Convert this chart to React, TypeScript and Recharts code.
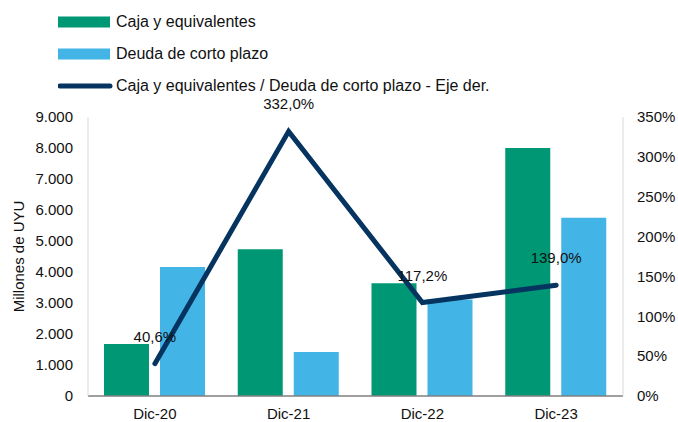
import { Bar, ComposedChart, Legend, LabelList, Line, XAxis, YAxis } from 'recharts'

const categories = ['Dic-20', 'Dic-21', 'Dic-22', 'Dic-23']
const caja = [1680, 4730, 3640, 8000]
const deuda = [4160, 1420, 3110, 5750]
const ratio = [0.406, 3.32, 1.172, 1.39]
const leftTicks = [0, 1000, 2000, 3000, 4000, 5000, 6000, 7000, 8000, 9000]
const rightTicks = [0, 0.5, 1, 1.5, 2, 2.5, 3, 3.5]
const legendOrder = ['caja', 'deuda', 'ratio']

const data = categories.map((name, i) => ({ name, caja: caja[i], deuda: deuda[i], ratio: ratio[i] }))

const FONT = '"Liberation Sans", Arial, sans-serif'
const GREEN = '#009874'
const BLUE = '#42B4E6'
const NAVY = '#04345F'

const fmtThousands = (v: number) => String(v).replace(/\B(?=(\d{3})+(?!\d))/g, '.')
const fmtPct = (v: number) => `${Math.round(v * 100)}%`
const fmtLabel = (v: number) => `${(v * 100).toFixed(1).replace('.', ',')}%`

function LegendBox({ payload }: any) {
  const items = [...(payload || [])].sort(
    (a: any, b: any) => legendOrder.indexOf(a.dataKey) - legendOrder.indexOf(b.dataKey),
  )
  return (
    <div style={{ fontFamily: FONT, fontSize: 16, color: '#111' }}>
      {items.map((p: any) => (
        <div key={p.value} style={{ display: 'flex', alignItems: 'center', height: 32 }}>
          <svg width={56} height={12} style={{ marginRight: 2 }}>
            {p.type === 'line' ? (
              <line x1={2} y1={6} x2={52} y2={6} stroke={p.color} strokeWidth={5} strokeLinecap="round" />
            ) : (
              <rect x={0} y={0.5} width={52} height={11} fill={p.color} />
            )}
          </svg>
          <span>{p.value}</span>
        </div>
      ))}
    </div>
  )
}

export default function App() {
  return (
    <div style={{ position: 'absolute', left: 0, top: 0, background: '#fff' }}>
      <ComposedChart
        width={678}
        height={422}
        data={data}
        margin={{ top: 117, right: 0, left: 0, bottom: 0 }}
        barGap={11}
      >
        <XAxis
          dataKey="name"
          height={26}
          tickLine={false}
          tickSize={0}
          tickMargin={12}
          axisLine={{ stroke: '#7f7f7f', strokeWidth: 1.5 }}
          tick={{ fill: '#111', fontSize: 15, fontFamily: FONT }}
        />
        <YAxis
          yAxisId="left"
          width={88}
          domain={[0, 9000]}
          ticks={leftTicks}
          interval={0}
          tickFormatter={fmtThousands}
          tickLine={false}
          tickSize={0}
          tickMargin={15}
          axisLine={{ stroke: '#d9d9d9' }}
          tick={{ fill: '#111', fontSize: 15, fontFamily: FONT }}
          label={{
            value: 'Millones de UYU',
            angle: -90,
            position: 'insideLeft',
            offset: 19,
            style: { textAnchor: 'middle', fill: '#111', fontSize: 15, fontFamily: FONT },
          }}
        />
        <YAxis
          yAxisId="right"
          orientation="right"
          width={55}
          domain={[0, 3.5]}
          ticks={rightTicks}
          interval={0}
          tickFormatter={fmtPct}
          tickLine={false}
          tickSize={0}
          tickMargin={14}
          axisLine={{ stroke: '#d9d9d9' }}
          tick={{ fill: '#111', fontSize: 15, fontFamily: FONT, textAnchor: 'start' }}
        />
        <Legend
          layout="vertical"
          align="center"
          verticalAlign="middle"
          content={<LegendBox />}
          wrapperStyle={{ left: 58, top: 6, width: 500, height: 100 }}
        />
        <Bar yAxisId="left" dataKey="caja" name="Caja y equivalentes" fill={GREEN} barSize={45} isAnimationActive={false} />
        <Bar yAxisId="left" dataKey="deuda" name="Deuda de corto plazo" fill={BLUE} barSize={45} isAnimationActive={false} />
        <Line
          yAxisId="right"
          dataKey="ratio"
          name="Caja y equivalentes / Deuda de corto plazo - Eje der."
          type="linear"
          stroke={NAVY}
          strokeWidth={5}
          strokeLinecap="round"
          strokeLinejoin="miter"
          dot={false}
          legendType="line"
          isAnimationActive={false}
        >
          <LabelList
            dataKey="ratio"
            content={(props: any) => (
              <text
                x={props.x}
                y={props.y - 22}
                textAnchor="middle"
                fill="#111"
                fontSize={15}
                fontFamily={FONT}
              >
                {fmtLabel(Number(props.value))}
              </text>
            )}
          />
        </Line>
      </ComposedChart>
    </div>
  )
}
